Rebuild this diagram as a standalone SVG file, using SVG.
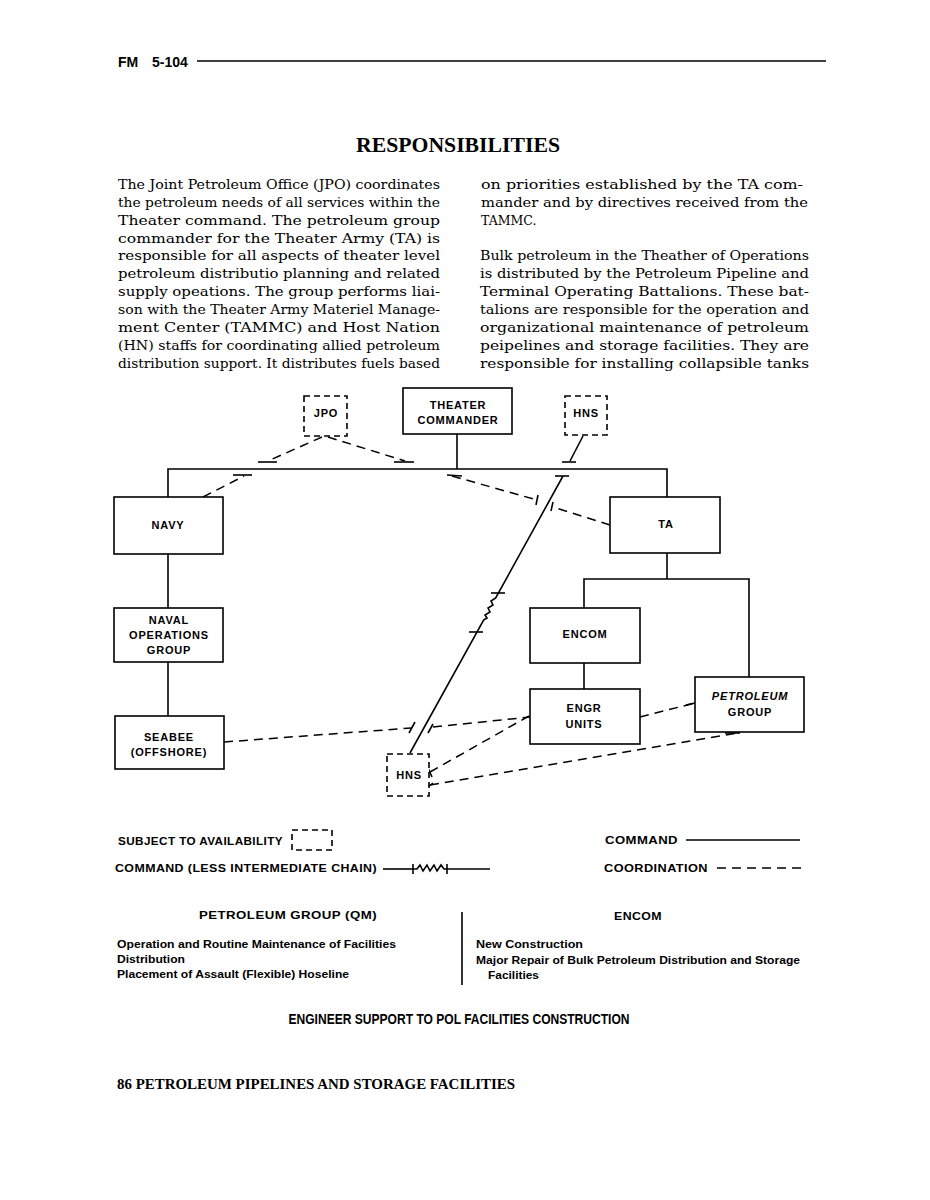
<svg xmlns="http://www.w3.org/2000/svg" width="930" height="1200" viewBox="0 0 930 1200">
<style>
.bg{fill:#fff}
.box{fill:#fff;stroke:#000;stroke-width:1.6}
.dbox{fill:#fff;stroke:#000;stroke-width:1.6;stroke-dasharray:6 4}
.lbl{font-family:"Liberation Sans",Arial,sans-serif;font-weight:bold;font-size:11px;letter-spacing:0.8px;text-anchor:middle;fill:#000}
.it{font-style:italic}
.cmd{fill:none;stroke:#000;stroke-width:1.6}
.crd{fill:none;stroke:#000;stroke-width:1.5;stroke-dasharray:9 6}
.tk{fill:none;stroke:#000;stroke-width:1.6}
.body{font-family:"DejaVu Serif","Liberation Serif",serif;font-size:12.5px;fill:#000}
.leg{font-family:"Liberation Sans",Arial,sans-serif;font-weight:bold;font-size:11.5px;letter-spacing:0.4px;fill:#000}
.tbl{font-family:"Liberation Sans",Arial,sans-serif;font-weight:bold;font-size:11px;fill:#000}
</style>
<rect class="bg" x="0" y="0" width="930" height="1200"/>

<g id="header">
<text x="118" y="67" font-family="Liberation Sans,Arial,sans-serif" font-weight="bold" font-size="14">FM</text>
<text x="152" y="67" font-family="Liberation Sans,Arial,sans-serif" font-weight="bold" font-size="14">5-104</text>
<line x1="197" y1="61" x2="826" y2="61" stroke="#000" stroke-width="1.4"/>
</g>

<text x="458" y="152" font-family="Liberation Serif,Times New Roman,serif" font-weight="bold" font-size="20" text-anchor="middle" textLength="204" lengthAdjust="spacingAndGlyphs">RESPONSIBILITIES</text>

<g id="left-column" class="body">
<text x="118" y="189" textLength="322" lengthAdjust="spacingAndGlyphs">The Joint Petroleum Office (JPO) coordinates</text>
<text x="118" y="207" textLength="322" lengthAdjust="spacingAndGlyphs">the petroleum needs of all services within the</text>
<text x="118" y="225" textLength="322" lengthAdjust="spacingAndGlyphs">Theater command. The petroleum group</text>
<text x="118" y="243" textLength="322" lengthAdjust="spacingAndGlyphs">commander for the Theater Army (TA) is</text>
<text x="118" y="260" textLength="322" lengthAdjust="spacingAndGlyphs">responsible for all aspects of theater level</text>
<text x="118" y="278" textLength="322" lengthAdjust="spacingAndGlyphs">petroleum distributio planning and related</text>
<text x="118" y="296" textLength="322" lengthAdjust="spacingAndGlyphs">supply opeations. The group performs liai-</text>
<text x="118" y="314" textLength="322" lengthAdjust="spacingAndGlyphs">son with the Theater Army Materiel Manage-</text>
<text x="118" y="332" textLength="322" lengthAdjust="spacingAndGlyphs">ment Center (TAMMC) and Host Nation</text>
<text x="118" y="350" textLength="322" lengthAdjust="spacingAndGlyphs">(HN) staffs for coordinating allied petroleum</text>
<text x="118" y="368" textLength="322" lengthAdjust="spacingAndGlyphs">distribution support. It distributes fuels based</text>
</g>

<g id="right-column" class="body">
<text x="481" y="189" textLength="322" lengthAdjust="spacingAndGlyphs">on priorities established by the TA com-</text>
<text x="481" y="207" textLength="327" lengthAdjust="spacingAndGlyphs">mander and by directives received from the</text>
<text x="481" y="225">TAMMC.</text>
<text x="480" y="260" textLength="329" lengthAdjust="spacingAndGlyphs">Bulk petroleum in the Theather of Operations</text>
<text x="480" y="278" textLength="329" lengthAdjust="spacingAndGlyphs">is distributed by the Petroleum Pipeline and</text>
<text x="480" y="296" textLength="329" lengthAdjust="spacingAndGlyphs">Terminal Operating Battalions. These bat-</text>
<text x="480" y="314" textLength="329" lengthAdjust="spacingAndGlyphs">talions are responsible for the operation and</text>
<text x="480" y="332" textLength="329" lengthAdjust="spacingAndGlyphs">organizational maintenance of petroleum</text>
<text x="480" y="350" textLength="329" lengthAdjust="spacingAndGlyphs">peipelines and storage facilities. They are</text>
<text x="480" y="368" textLength="329" lengthAdjust="spacingAndGlyphs">responsible for installing collapsible tanks</text>
</g>

<g id="connectors">
<!-- command lines -->
<polyline class="cmd" points="168,497 168,469 667,469 667,497"/>
<line class="cmd" x1="457" y1="434" x2="457" y2="469"/>
<line class="cmd" x1="168" y1="554" x2="168" y2="608"/>
<line class="cmd" x1="168" y1="662" x2="168" y2="716"/>
<line class="cmd" x1="667" y1="553" x2="667" y2="579"/>
<polyline class="cmd" points="584,608 584,579 749,579 749,677"/>
<line class="cmd" x1="584" y1="663" x2="584" y2="689"/>
<!-- HNS top to bar -->
<line class="cmd" x1="583" y1="436" x2="570" y2="461"/>
<line class="tk" x1="562" y1="462" x2="576" y2="462"/>
<!-- long command (less intermediate chain) line -->
<line class="tk" x1="555" y1="476" x2="569" y2="476"/>
<polyline class="cmd" points="563,476 495.7,598 491,601 493,605 488,608 490,612 485,615 487,618 483.6,620 410,753"/>
<line class="tk" x1="491" y1="593" x2="505" y2="593"/>
<line class="tk" x1="469" y1="632" x2="483" y2="632"/>
<!-- coordination lines -->
<line class="crd" x1="322" y1="437" x2="268" y2="461"/>
<line class="tk" x1="258" y1="462" x2="277" y2="462"/>
<line class="crd" x1="328" y1="437" x2="405" y2="461"/>
<line class="tk" x1="394" y1="462" x2="414" y2="462"/>
<line class="crd" x1="203" y1="497" x2="244" y2="476"/>
<line class="tk" x1="233" y1="475" x2="252" y2="475"/>
<line class="tk" x1="447" y1="475" x2="462" y2="476"/>
<line class="crd" x1="452" y1="476" x2="537" y2="500"/>
<line class="tk" x1="538" y1="495" x2="536" y2="505"/>
<line class="crd" x1="610" y1="525" x2="553" y2="507"/>
<line class="tk" x1="553" y1="502" x2="551" y2="511"/>
<line class="crd" x1="224" y1="742" x2="411" y2="728"/>
<line class="tk" x1="409" y1="733" x2="415" y2="722"/>
<line class="tk" x1="428" y1="733" x2="433" y2="724"/>
<line class="crd" x1="433" y1="727" x2="530" y2="717"/>
<line class="crd" x1="430" y1="772" x2="529" y2="716"/>
<line class="tk" x1="428" y1="768" x2="432" y2="777"/>
<line class="crd" x1="430" y1="785" x2="738" y2="733"/>
<line class="tk" x1="725" y1="733" x2="740" y2="733"/>
<line class="tk" x1="428" y1="787" x2="433" y2="783"/>
<line class="crd" x1="640" y1="717" x2="695" y2="703"/>
<line class="tk" x1="686" y1="705" x2="695" y2="703"/>
</g>

<g id="node-jpo">
<rect class="dbox" x="304" y="396" width="43" height="40"/>
<text class="lbl" x="326" y="417">JPO</text>
</g>
<g id="node-theater">
<rect class="box" x="403" y="388" width="109" height="46"/>
<text class="lbl" x="458" y="409">THEATER</text>
<text class="lbl" x="458" y="424">COMMANDER</text>
</g>
<g id="node-hns-top">
<rect class="dbox" x="565" y="396" width="42" height="39"/>
<text class="lbl" x="586" y="417">HNS</text>
</g>
<g id="node-navy">
<rect class="box" x="114" y="497" width="109" height="57"/>
<text class="lbl" x="168" y="529">NAVY</text>
</g>
<g id="node-ta">
<rect class="box" x="610" y="497" width="110" height="56"/>
<text class="lbl" x="666" y="528">TA</text>
</g>
<g id="node-naval-ops">
<rect class="box" x="114" y="608" width="109" height="54"/>
<text class="lbl" x="169" y="624">NAVAL</text>
<text class="lbl" x="169" y="639">OPERATIONS</text>
<text class="lbl" x="169" y="654">GROUP</text>
</g>
<g id="node-encom">
<rect class="box" x="530" y="608" width="110" height="55"/>
<text class="lbl" x="585" y="638">ENCOM</text>
</g>
<g id="node-engr">
<rect class="box" x="530" y="689" width="110" height="55"/>
<text class="lbl" x="584" y="712">ENGR</text>
<text class="lbl" x="584" y="728">UNITS</text>
</g>
<g id="node-petroleum-group">
<rect class="box" x="695" y="677" width="109" height="55"/>
<text class="lbl it" x="750" y="700">PETROLEUM</text>
<text class="lbl" x="750" y="716">GROUP</text>
</g>
<g id="node-seabee">
<rect class="box" x="115" y="716" width="109" height="53"/>
<text class="lbl" x="169" y="741">SEABEE</text>
<text class="lbl" x="169" y="756">(OFFSHORE)</text>
</g>
<g id="node-hns-bottom">
<rect class="dbox" x="387" y="754" width="42" height="42"/>
<text class="lbl" x="409" y="779">HNS</text>
</g>

<g id="legend">
<text class="leg" x="118" y="845" textLength="165" lengthAdjust="spacingAndGlyphs">SUBJECT TO AVAILABILITY</text>
<rect class="dbox" x="292" y="830" width="40" height="20"/>
<text class="leg" x="115" y="872" textLength="262" lengthAdjust="spacingAndGlyphs">COMMAND (LESS INTERMEDIATE CHAIN)</text>
<polyline class="cmd" points="383,869 413,869"/>
<line class="tk" x1="413" y1="864" x2="413" y2="874"/>
<polyline class="cmd" stroke-width="1.3" points="413,869 417,869 420,865 423,871 427,865 430,871 434,865 437,871 441,865 444,869 447,869"/>
<line class="tk" x1="447" y1="864" x2="447" y2="874"/>
<line class="cmd" x1="447" y1="869" x2="490" y2="869" stroke-width="1.2"/>
<text class="leg" x="605" y="844" textLength="73" lengthAdjust="spacingAndGlyphs">COMMAND</text>
<line class="cmd" x1="686" y1="840" x2="800" y2="840"/>
<text class="leg" x="604" y="872" textLength="104" lengthAdjust="spacingAndGlyphs">COORDINATION</text>
<line class="crd" x1="717" y1="868" x2="803" y2="868" stroke-dasharray="13 6"/>
</g>

<g id="table">
<text class="leg" x="199" y="919" textLength="178" lengthAdjust="spacingAndGlyphs">PETROLEUM GROUP (QM)</text>
<line x1="462" y1="912" x2="462" y2="985" stroke="#000" stroke-width="1.6"/>
<text class="tbl" x="117" y="948" textLength="279" lengthAdjust="spacingAndGlyphs">Operation and Routine Maintenance of Facilities</text>
<text class="tbl" x="117" y="963" textLength="68" lengthAdjust="spacingAndGlyphs">Distribution</text>
<text class="tbl" x="117" y="978" textLength="232" lengthAdjust="spacingAndGlyphs">Placement of Assault (Flexible) Hoseline</text>
<text class="leg" x="614" y="920" textLength="48" lengthAdjust="spacingAndGlyphs">ENCOM</text>
<text class="tbl" x="476" y="948" textLength="107" lengthAdjust="spacingAndGlyphs">New Construction</text>
<text class="tbl" x="476" y="964" textLength="324" lengthAdjust="spacingAndGlyphs">Major Repair of Bulk Petroleum Distribution and Storage</text>
<text class="tbl" x="488" y="979" textLength="51" lengthAdjust="spacingAndGlyphs">Facilities</text>
</g>

<text x="459" y="1024" font-family="Liberation Sans,Arial,sans-serif" font-weight="bold" font-size="14" text-anchor="middle" textLength="341" lengthAdjust="spacingAndGlyphs">ENGINEER SUPPORT TO POL FACILITIES CONSTRUCTION</text>

<text x="117" y="1089" font-family="Liberation Serif,Times New Roman,serif" font-weight="bold" font-size="15" textLength="398" lengthAdjust="spacingAndGlyphs">86 PETROLEUM PIPELINES AND STORAGE FACILITIES</text>
</svg>
